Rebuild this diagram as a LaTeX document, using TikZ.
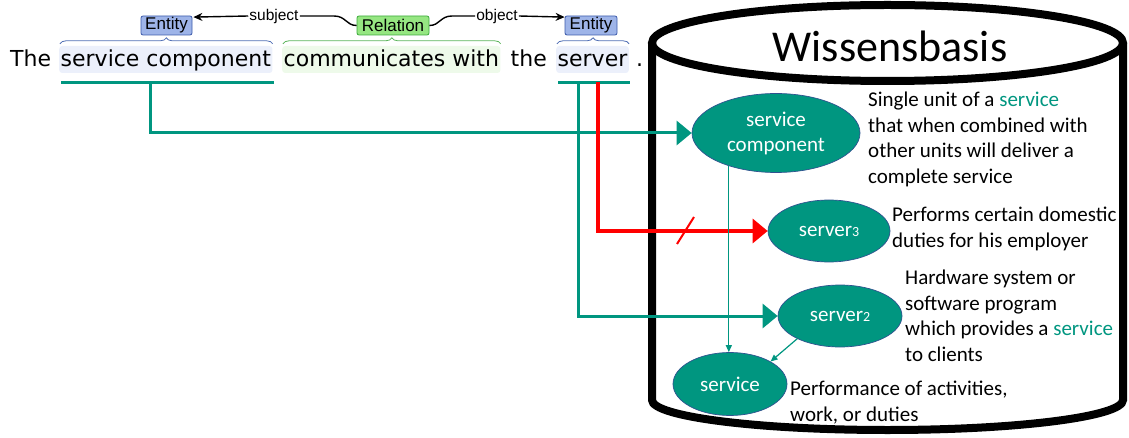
\documentclass[tikz,border=0pt]{standalone}
\usepackage{fontspec}
\setmainfont{Carlito}
\newfontfamily\arialf{Liberation Sans}
\newfontfamily\dejaf{DejaVu Sans}
\usetikzlibrary{arrows.meta,decorations.pathreplacing,shapes.geometric,calc}
\definecolor{tealc}{RGB}{0,150,128}
\definecolor{ellborder}{RGB}{47,82,143}
\definecolor{entfill}{RGB}{158,180,232}
\definecolor{entdraw}{RGB}{60,90,170}
\definecolor{relfill}{RGB}{150,230,130}
\definecolor{reldraw}{RGB}{60,170,60}
\definecolor{hlblue}{RGB}{236,240,251}
\definecolor{hlgreen}{RGB}{238,250,234}
\definecolor{braceblue}{RGB}{80,110,180}
\definecolor{bracegreen}{RGB}{90,180,90}
\begin{document}
\begin{tikzpicture}[x=1pt,y=-1pt,
  word/.style={inner xsep=1.5, inner ysep=0, text height=21, text depth=6, rounded corners=3, anchor=base west, font=\dejaf\fontsize{22}{26}\selectfont},
  tag/.style={draw, rounded corners=2, inner sep=0, minimum height=19, font=\arialf\fontsize{17}{17}\selectfont, line width=0.8},
  rolelabel/.style={fill=white, inner sep=1, font=\arialf\fontsize{15.5}{15.5}\selectfont},
  conn/.style={line width=1.4, black},
  tbrace/.style={decorate, decoration={brace, amplitude=6}, line width=0.8},
  ent/.style={ellipse, fill=tealc, draw=ellborder, line width=0.7, inner sep=0, text=white, align=center, font=\fontsize{21}{25}\selectfont},
  desc/.style={anchor=north west, inner sep=0, align=left, font=\fontsize{21}{25.5}\selectfont},
  cyl/.style={line width=8, black},
  tealthick/.style={line width=3, tealc},
  redthick/.style={line width=3.2, red},
  bigtip/.style={-{Triangle[length=15, width=24]}},
  smalltip/.style={-{Triangle[length=7, width=6]}},
  thinteal/.style={line width=1.2, tealc}
]
\useasboundingbox (0,0) rectangle (1129,438);

% cylinder
\draw[cyl] (652,43) -- (652,400) .. controls (652,416.6) and (757.5,430) .. (887.5,430)
  .. controls (1017.5,430) and (1123,416.6) .. (1123,400) -- (1123,43);
\draw[cyl, fill=white] (887.5,43) ellipse [x radius=235.5, y radius=38];
\node[font=\fontsize{44}{44}\selectfont] (kb) at (890,46) {Wissensbasis};

% sentence
\node[word] (w0) at (8.5,67) {The};
\node[word, fill=hlblue] (w1) at (59,67) {service component};
\node[word, fill=hlgreen] (w2) at (282,67) {communicates with};
\node[word] (w3) at (509,67) {the};
\node[word, fill=hlblue] (w4) at (556,67) {server};
\node[word] (w5) at (634.5,67) {.};

% tags
\node[tag, fill=entfill, draw=entdraw, minimum width=51] (e1) at (166.5,25.5) {Entity};
\node[tag, fill=relfill, draw=reldraw, minimum width=72] (rel) at (393,25.5) {Relation};
\node[tag, fill=entfill, draw=entdraw, minimum width=52] (e2) at (591,25.5) {Entity};
\node[rolelabel] (subj) at (274,16) {subject};
\node[rolelabel] (obj) at (497,16) {object};
\coordinate (e1t) at ($(e1.north east)+(1,1.5)$);
\coordinate (e2t) at ($(e2.north west)+(0,1.5)$);
\draw[conn] (rel.west) .. controls (346,25.5) and (346,16) .. (334,16) -- (subj.east);
\draw[conn, -{Stealth[length=9, width=8]}] (subj.west) -- (e1t);
\draw[conn] (rel.east) .. controls (440,25.5) and (440,16) .. (452,16) -- (obj.west);
\draw[conn, -{Stealth[length=9, width=8]}] (obj.east) -- (e2t);

% braces
\draw[tbrace, braceblue] ($(w1.north west)+(1,-2)$) -- ($(w1.north east)+(0,-2)$);
\draw[tbrace, bracegreen] ($(w2.north west)+(1,-2)$) -- ($(w2.north east)+(0,-2)$);
\draw[tbrace, braceblue] ($(w4.north west)+(1,-2)$) -- ($(w4.north east)+(0,-2)$);

% knowledge base entities
\node[ent, minimum width=168, minimum height=79] (sc) at (776,133) {service\\component};
\node[ent, minimum width=122, minimum height=62] (s3) at (829,231) {server{\fontsize{14}{14}\selectfont 3}};
\node[ent, minimum width=124, minimum height=62] (s2) at (840,316) {server{\fontsize{14}{14}\selectfont 2}};
\node[ent, minimum width=114, minimum height=63] (sv) at (730,384) {service};

% descriptions
\node[desc] (d1) at (868,92) {Single unit of a \textcolor{tealc}{service}\\that when combined with\\other units will deliver a\\complete service};
\node[desc] (d3) at (892,207) {Performs certain domestic\\duties for his employer};
\node[desc] (d2) at (905,270) {Hardware system or\\software program\\which provides a \textcolor{tealc}{service}\\to clients};
\node[desc] (d4) at (790,381) {Performance of activities,\\work, or duties};

% underlines
\draw[tealthick] ($(w1.south west)+(2,9)$) -- ($(w1.south east)+(1,9)$);
\draw[tealthick] ($(w4.south west)+(2,9)$) -- ($(w4.south east)+(1,9)$);
\coordinate (u1) at (150,82);
\coordinate (u2) at (578,82);
\coordinate (u3) at (598,82);

% links
\draw[tealthick, bigtip] (u1) |- (sc.west);
\draw[tealthick, bigtip] (u2) |- (s2.west);
\draw[redthick, bigtip] (u3) |- (s3.west);
\draw[red, line width=2] (677,244) -- (694,217);
\draw[thinteal, smalltip] (sc.215) -- (sc.215 |- sv.north);
\draw[thinteal, smalltip] (s2.208) -- (sv.29);
\end{tikzpicture}
\end{document}
